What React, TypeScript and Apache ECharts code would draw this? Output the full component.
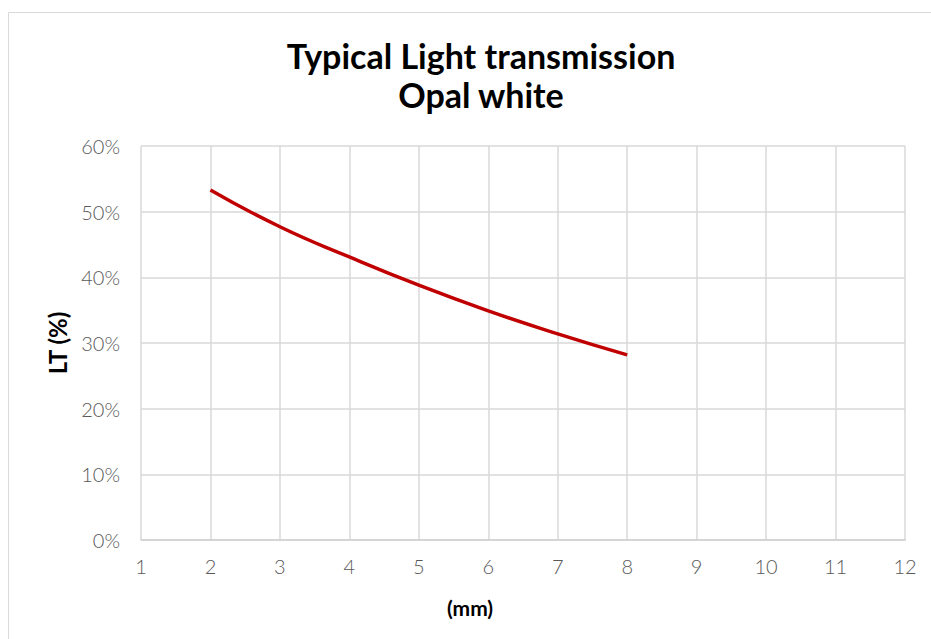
import React, { useEffect, useRef } from "react";
import * as echarts from "echarts";

const thicknessMm = [2, 3, 4, 5, 6, 7, 8];
const lightTransmission = [53.3, 47.7, 43.1, 38.8, 34.9, 31.4, 28.2];
const titleLines = ["Typical Light transmission", "Opal white"];
const xAxisName = "(mm)";
const yAxisName = "LT (%)";

export default function App() {
  const ref = useRef<HTMLDivElement>(null);
  useEffect(() => {
    if (!ref.current) return;
    const chart = echarts.init(ref.current, null, { renderer: "svg" });
    const tickFont = { fontFamily: "Lato", fontWeight: 300 as any, fontSize: 20, color: "#595959" };
    chart.setOption({
      animation: false,
      backgroundColor: "#ffffff",
      title: {
        text: titleLines.join("\n"),
        left: 476,
        top: 31,
        textAlign: "center",
        textStyle: {
          fontFamily: "Lato",
          fontWeight: "bold",
          fontSize: 34,
          lineHeight: 39,
          color: "#000000",
        },
      },
      graphic: [
        {
          type: "rect",
          shape: { x: 8.5, y: 12.5, width: 1000, height: 1000 },
          style: { fill: "none", stroke: "#d9d9d9", lineWidth: 1 },
          silent: true,
        },
        {
          type: "text",
          x: 470,
          y: 607,
          style: {
            text: xAxisName,
            fontFamily: "Lato",
            fontWeight: "bold",
            fontSize: 21,
            fill: "#000",
            textAlign: "center",
            textVerticalAlign: "middle",
          },
          silent: true,
        },
      ],
      grid: { left: 141, right: 26, top: 146, bottom: 99, containLabel: false },
      xAxis: {
        type: "value",
        min: 1,
        max: 12,
        interval: 1,
        axisLine: { show: true, lineStyle: { color: "#d0d0d0", width: 1.5 } },
        axisTick: { show: false },
        axisLabel: { ...tickFont, margin: 16 },
        splitLine: { show: true, lineStyle: { color: "#d9d9d9", width: 1.5 } },
      },
      yAxis: {
        type: "value",
        min: 0,
        max: 60,
        interval: 10,
        name: yAxisName,
        nameLocation: "middle",
        nameGap: 72,
        nameRotate: 90,
        nameTextStyle: { fontFamily: "Lato", fontWeight: "bold", fontSize: 24, color: "#000" },
        axisLine: { show: false },
        axisTick: { show: false },
        axisLabel: { ...tickFont, margin: 21, formatter: "{value}%" },
        splitLine: { show: true, lineStyle: { color: "#d9d9d9", width: 1.5 } },
      },
      series: [
        {
          type: "line",
          data: thicknessMm.map((x, i) => [x, lightTransmission[i]]),
          smooth: true,
          showSymbol: false,
          lineStyle: { color: "#c00000", width: 3.5 },
        },
      ],
    });
    return () => chart.dispose();
  }, []);
  return (
    <div
      ref={ref}
      style={{ position: "fixed", left: 0, top: 0, width: 931, height: 639 }}
    />
  );
}
